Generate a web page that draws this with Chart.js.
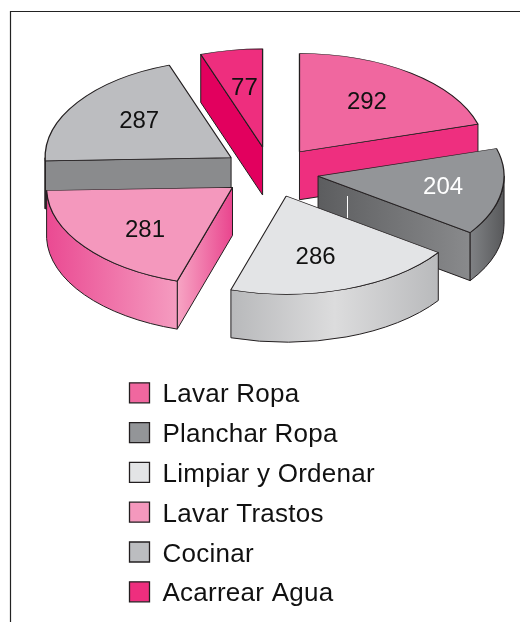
<!DOCTYPE html>
<html>
<head>
<meta charset="utf-8">
<style>
html,body{margin:0;padding:0;background:#fff;}
#wrap{position:absolute;left:0;top:0;width:520px;height:622px;}
</style>
<script src="https://cdn.jsdelivr.net/npm/chart.js@4"></script>
</head>
<body>
<div id="wrap"><canvas id="c" width="520" height="622"></canvas></div>
<script>
const categories = ['Lavar Ropa','Planchar Ropa','Limpiar y Ordenar','Lavar Trastos','Cocinar','Acarrear Agua'];
const values = [292,204,286,281,287,77];
const topColors = ['#f0679f','#939598','#e3e4e6','#f498bd','#bcbdc0','#ee2e7e'];
const valueColors = ['#111','#fff','#111','#111','#111','#111'];
const labelNudge = [[-1.7,2],[11.3,1],[-7.7,1],[4.3,4],[3.3,0],[1.3,4]];
const radialFaceColors = [['#ee2f7f','#ee2f7f'],['#5c5d5f','#898a8c'],['#bbb','#bbb'],['#e9458e','#f7a5c4'],['#8a8b8d','#8a8b8d'],['#e2005e','#e2005e']];
const curveFaceColors = [['#ee2f7f'],['#808285','#58595b'],['#b8b9bb','#dcdcdd','#b9babc'],['#ea4a92','#f59cc0'],['#8a8b8d'],['#e2005e']];

const CX = 270.7, CY = 172, SQUASH = 0.528, DEPTH = 48, EXPLODE = 48, LINE = '#231f20';

function grad(ctx, x0, x1, cols){
  if (cols.length === 1 || x0 === x1) return cols[0];
  const g = ctx.createLinearGradient(x0,0,x1,0);
  cols.forEach((c,i)=>g.addColorStop(i/(cols.length-1),c));
  return g;
}
function geom(arc){
  const mid = (arc.startAngle+arc.endAngle)/2;
  const cx = CX+Math.cos(mid)*EXPLODE, cy = CY+Math.sin(mid)*EXPLODE*SQUASH, R = arc.outerRadius;
  return {cx,cy,R,mid,pt:t=>[cx+R*Math.cos(t), cy+R*Math.sin(t)*SQUASH]};
}
function face(ctx, a, b, fill){
  ctx.beginPath();
  ctx.moveTo(a[0],a[1]);ctx.lineTo(b[0],b[1]);ctx.lineTo(b[0],b[1]+DEPTH);ctx.lineTo(a[0],a[1]+DEPTH);ctx.closePath();
  ctx.fillStyle=fill;ctx.fill();ctx.strokeStyle=LINE;ctx.lineWidth=1;ctx.stroke();
}
const pie3d = {
  id:'pie3d',
  beforeDraw(chart){
    const ctx=chart.ctx;
    ctx.letterSpacing='0.25px';
    ctx.save();
    ctx.strokeStyle='#222';ctx.lineWidth=1.2;
    ctx.beginPath();ctx.moveTo(10.5,622);ctx.lineTo(10.5,11.5);ctx.lineTo(520,11.5);ctx.stroke();
    ctx.restore();
  },
  afterLayout(chart){
    const l=chart.legend, p=l.options.labels.padding;
    const w=l.right-l.left,h=l.bottom-l.top;
    l.left=129.5-p;l.right=l.left+w;l.top=366;l.bottom=l.top+h;
    const d=l._draw;
    l._draw=function(){
      const c=this.ctx, ft=c.fillText;
      c.fillText=function(t,x,y){ft.call(c,t,x,y+2.5);};
      d.call(this);
      delete c.fillText;
    };
  },
  afterDatasetsUpdate(chart){
    chart.getDatasetMeta(0).data.forEach(arc=>{
      const mid=(arc.startAngle+arc.endAngle)/2;
      arc.x=CX+Math.cos(mid)*EXPLODE;
      arc.y=CY+Math.sin(mid)*EXPLODE;
    });
  },
  beforeDatasetDraw(chart,args){
    const ctx=chart.ctx, arcs=args.meta.data;
    const order=arcs.map((a,i)=>i).sort((i,j)=>geom(arcs[i]).cy-geom(arcs[j]).cy);
    order.forEach(i=>{
      const arc=arcs[i], g=geom(arc), apex=[g.cx,g.cy];
      const s=arc.startAngle,e=arc.endAngle;
      if (Math.cos(s)<0){const r=g.pt(s);face(ctx,apex,r,grad(ctx,g.cx,r[0],radialFaceColors[i]));}
      if (Math.cos(e)>0){const r=g.pt(e);face(ctx,apex,r,grad(ctx,g.cx,r[0],radialFaceColors[i]));}
      const a0=Math.max(s,0),a1=Math.min(e,Math.PI);
      if (a1>a0){
        const x0=Math.min(g.pt(a0)[0],g.pt(a1)[0]),x1=Math.max(g.pt(a0)[0],g.pt(a1)[0]);
        ctx.beginPath();
        ctx.ellipse(g.cx,g.cy,g.R,g.R*SQUASH,0,a0,a1);
        ctx.ellipse(g.cx,g.cy+DEPTH,g.R,g.R*SQUASH,0,a1,a0,true);
        ctx.closePath();
        ctx.fillStyle=grad(ctx,x0,x1,curveFaceColors[i]);ctx.fill();
        ctx.strokeStyle=LINE;ctx.lineWidth=1;ctx.stroke();
      }
    });
    ctx.save();
    ctx.translate(0,CY);ctx.scale(1,SQUASH);ctx.translate(0,-CY);
  },
  afterDatasetDraw(chart){
    chart.ctx.restore();
  },
  afterDraw(chart){
    const ctx=chart.ctx, arcs=chart.getDatasetMeta(0).data;
    ctx.save();
    ctx.letterSpacing='0px';
    ctx.strokeStyle='#fff';ctx.lineWidth=1;
    ctx.beginPath();ctx.moveTo(347.5,196);ctx.lineTo(347.5,218);ctx.stroke();
    ctx.font='24px "Liberation Sans", Arial, sans-serif';
    ctx.textAlign='center';ctx.textBaseline='middle';
    arcs.forEach((arc,i)=>{
      const g=geom(arc);
      const x=g.cx+Math.cos(g.mid)*g.R*0.62+labelNudge[i][0], y=g.cy+Math.sin(g.mid)*g.R*SQUASH*0.65+labelNudge[i][1];
      ctx.fillStyle=valueColors[i];
      ctx.fillText(String(values[i]),x,y);
    });
    ctx.restore();
  }
};
new Chart(document.getElementById('c'),{
  type:'pie',
  data:{labels:categories,datasets:[{data:values,backgroundColor:topColors,borderColor:LINE,borderWidth:1.3,hoverOffset:0,radius:186,clip:false}]},
  options:{
    responsive:false,animation:false,
    layout:{padding:0},
    plugins:{
      tooltip:{enabled:false},
      legend:{position:'left',align:'start',labels:{boxWidth:20,boxHeight:20,padding:13.8,color:'#111',font:{family:'"Liberation Sans", Arial, sans-serif',size:26}}}
    }
  },
  plugins:[pie3d]
});
</script>
</body>
</html>
